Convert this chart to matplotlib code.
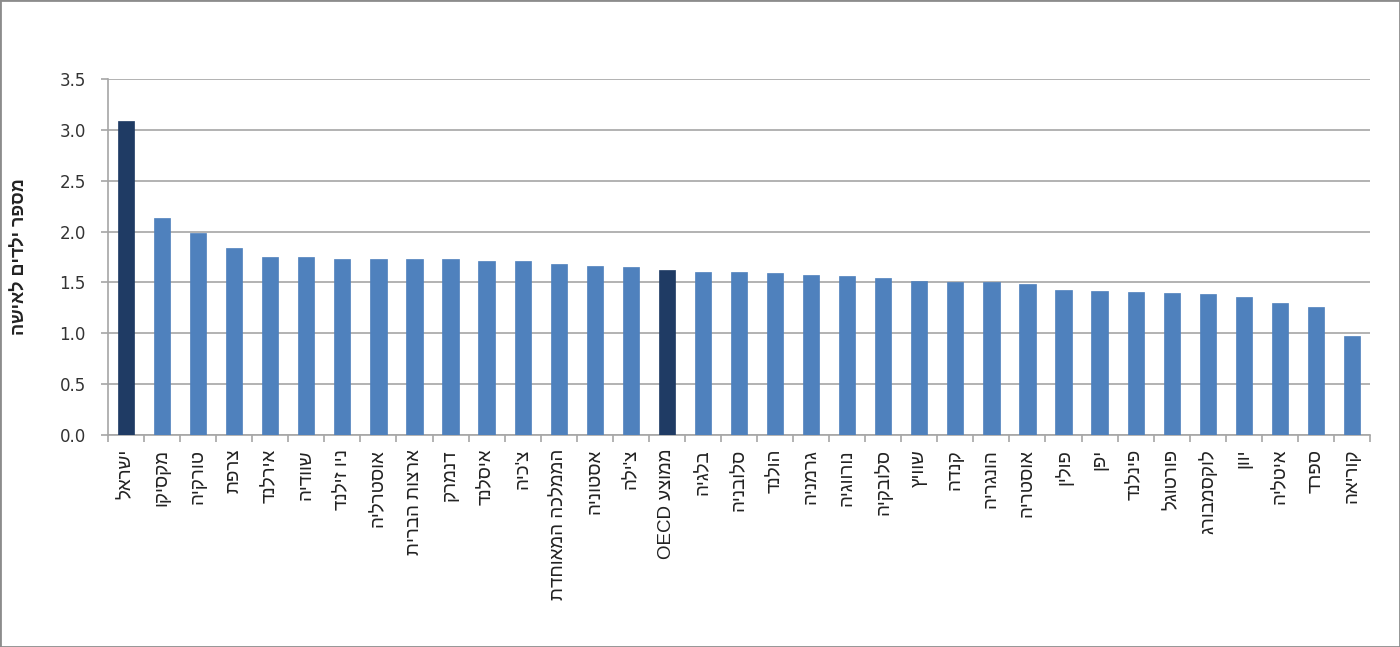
import matplotlib
matplotlib.use('Agg')
import matplotlib.pyplot as plt
from matplotlib.patches import Rectangle

plt.rcParams['font.family'] = ['Liberation Sans', 'DejaVu Sans']

countries = ['ישראל', 'מקסיקו', 'טורקיה', 'צרפת', 'אירלנד', 'שוודיה', 'ניו זילנד',
	'אוסטרליה', 'ארצות הברית', 'דנמרק', 'איסלנד', "צ'כיה", 'הממלכה המאוחדת',
	'אסטוניה', "צ'ילה", 'ממוצע OECD', 'בלגיה', 'סלובניה', 'הולנד', 'גרמניה',
	'נורווגיה', 'סלובקיה', 'שוויץ', 'קנדה', 'הונגריה', 'אוסטריה', 'פולין', 'יפן',
	'פינלנד', 'פורטוגל', 'לוקסמבורג', 'יוון', 'איטליה', 'ספרד', 'קוריאה']
fertility = [3.09, 2.13, 1.99, 1.84, 1.75, 1.75, 1.73, 1.73, 1.73, 1.73, 1.71, 1.71,
	1.68, 1.66, 1.65, 1.62, 1.60, 1.60, 1.59, 1.57, 1.56, 1.54, 1.51, 1.50, 1.50,
	1.48, 1.43, 1.42, 1.41, 1.40, 1.39, 1.36, 1.30, 1.26, 0.97]
highlight = ['ישראל', 'ממוצע OECD']
yTicks = [0.0, 0.5, 1.0, 1.5, 2.0, 2.5, 3.0, 3.5]
yTitle = 'מספר ילדים לאישה'

LIGHT = '#4F81BD'
DARK = '#1F3B64'

def isHebrew(word):
	return any('\u0590' <= ch <= '\u05FF' for ch in word)

def visual(text):
	# matplotlib has no bidi support, so flip Hebrew words by hand
	words = text.split(' ')[::-1]
	return ' '.join(w[::-1] if isHebrew(w) else w for w in words)

fig = plt.figure(figsize=(14, 6.47), dpi=100)
ax = fig.add_axes([108 / 1400, 1 - 435 / 647, 1262 / 1400, 356 / 647])

x = list(range(len(countries)))
colors = [DARK if c in highlight else LIGHT for c in countries]
ax.bar(x, fertility, width=0.45, color=colors, edgecolor=colors, linewidth=0.5, zorder=3)

ax.set_ylim(0, 3.5)
ax.set_xlim(-0.5, len(countries) - 0.5)
ax.set_yticks(yTicks)
ax.set_yticklabels(['%.1f' % v for v in yTicks], fontsize=12, color='#333333',
	family='DejaVu Sans')
ax.yaxis.grid(True, color='#A6A6A6', linewidth=1.2, zorder=0)

ax.set_xticks(x)
ax.set_xticklabels([visual(c) for c in countries], rotation=90, fontsize=13.5,
	va='top', ha='center', color='#222222')
ax.set_xticks([i - 0.5 for i in range(len(countries) + 1)], minor=True)
ax.tick_params(axis='x', which='major', length=0, pad=10)
ax.tick_params(axis='x', which='minor', length=5, color='#A6A6A6', width=1.2)
ax.tick_params(axis='y', length=5, color='#A6A6A6', width=1.2, pad=11)

for side in ('top', 'right'):
	ax.spines[side].set_visible(False)
for side in ('left', 'bottom'):
	ax.spines[side].set_color('#A6A6A6')
	ax.spines[side].set_linewidth(1.2)

ax.set_ylabel(visual(yTitle), fontsize=13, fontweight='bold', color='#222222')
ax.yaxis.set_label_coords(-0.063, 0.5)

fig.patches.append(Rectangle((0, 0), 1, 1, transform=fig.transFigure, fill=False,
	edgecolor='#8C8C8C', linewidth=2))

fig.savefig('out.png', dpi=100)
